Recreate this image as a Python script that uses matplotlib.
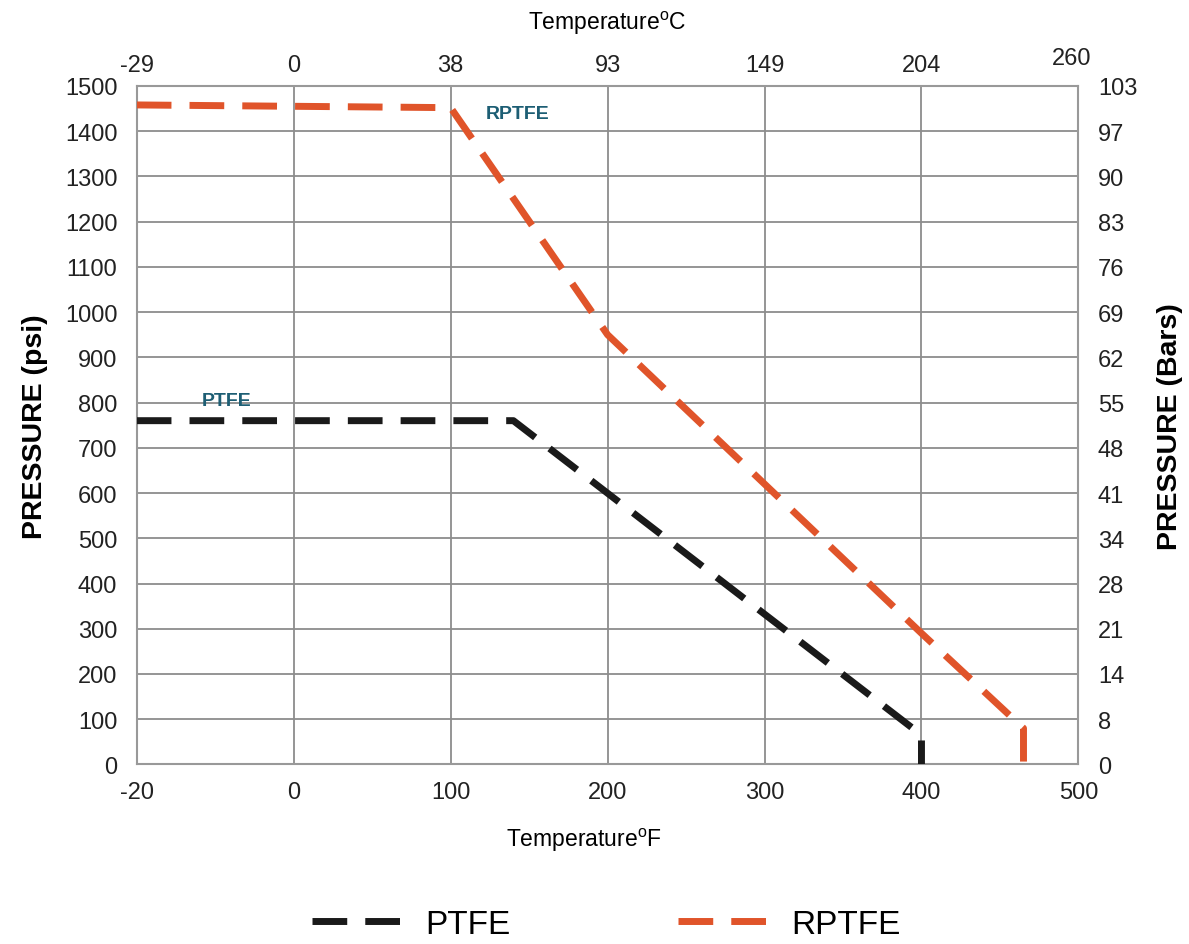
import numpy as np
import matplotlib
matplotlib.use("Agg")
import matplotlib.pyplot as plt

plt.rcParams['font.family'] = ['Liberation Sans', 'DejaVu Sans']
plt.rcParams['mathtext.fontset'] = 'custom'
plt.rcParams['mathtext.rm'] = 'Liberation Sans'

# tick values (axis is evenly spaced between these)
temp_f = [-20, 0, 100, 200, 300, 400, 500]
temp_c = ['-29', '0', '38', '93', '149', '204', '260']
psi_ticks = list(range(0, 1600, 100))
bar_labels = ['0', '8', '14', '21', '28', '34', '41', '48', '55', '62',
              '69', '76', '83', '90', '97', '103']

# curves
ptfe_t = [-20, 140, 400, 400]
ptfe_p = [760, 760, 65, 0]
rptfe_t = [-20, 100, 200, 300, 400, 465, 465]
rptfe_p = [1458, 1452, 950, 620, 290, 80, 0]

pos = np.arange(len(temp_f))
fwd = lambda x: np.interp(x, temp_f, pos)
inv = lambda p: np.interp(p, pos, temp_f)

black = '#1a1a1a'
orange = '#e0542a'
grid_c = '#8c8c8c'
teal = '#1d5e74'
txt_c = '#222222'

fig = plt.figure(figsize=(11.89, 9.45), dpi=100)
ax = fig.add_axes([0.115, 0.19, 0.792, 0.718])
ax.set_xscale('function', functions=(fwd, inv))
ax.set_xlim(-20, 500)
ax.set_ylim(0, 1500)

ax.plot(ptfe_t, ptfe_p, color=black, lw=5, dashes=(5, 2.6),
        solid_capstyle='butt', dash_capstyle='butt', label='PTFE', zorder=3)
ax.plot(rptfe_t, rptfe_p, color=orange, lw=5, dashes=(5, 2.6),
        solid_capstyle='butt', dash_capstyle='butt', label='RPTFE', zorder=3)

ax.text(143, 1438, 'RPTFE', color=teal, fontsize=14, fontweight='bold',
        ha='center', va='center')
ax.text(-8.6, 805, 'PTFE', color=teal, fontsize=14, fontweight='bold',
        ha='center', va='center')

ax.set_xticks(temp_f)
ax.set_xticklabels([str(t) for t in temp_f])
ax.set_yticks(psi_ticks)
ax.tick_params(length=0, labelsize=17, colors=txt_c)
ax.tick_params(axis='y', pad=14)
ax.tick_params(axis='x', pad=12)
for t in temp_f[1:-1]:
    ax.axvline(t, color=grid_c, lw=1.3, zorder=1)
for p in psi_ticks[1:-1]:
    ax.axhline(p, color=grid_c, lw=1.3, zorder=1)
for s in ax.spines.values():
    s.set_color('#999999')
    s.set_linewidth(1.5)

ax.set_ylabel('PRESSURE (psi)', fontsize=20.5, fontweight='bold', labelpad=12)
ax.set_xlabel(r'Temperature$^{\rm o}$F', fontsize=16.5, labelpad=16)
ax.xaxis.label.set_x(0.475)

# top celsius axis
axt = ax.twiny()
axt.set_xscale('function', functions=(fwd, inv))
axt.set_xlim(-20, 500)
axt.set_xticks(temp_f[:-1])
axt.set_xticklabels(temp_c[:-1])
axt.tick_params(length=0, labelsize=17, pad=7, colors=txt_c)
axt.annotate(temp_c[-1], xy=(500, 1.0), xycoords=axt.get_xaxis_transform(),
             xytext=(-5, 12), textcoords='offset points',
             fontsize=17, color=txt_c, ha='center', va='bottom')
axt.set_xlabel(r'Temperature$^{\rm o}$C', fontsize=16.5, labelpad=18)
for s in axt.spines.values():
    s.set_visible(False)

# right bar axis
axr = ax.twinx()
axr.set_ylim(0, 1500)
axr.set_yticks(psi_ticks)
axr.set_yticklabels(bar_labels)
axr.tick_params(length=0, labelsize=17, pad=14, colors=txt_c)
axr.set_ylabel('PRESSURE (Bars)', fontsize=20.5, fontweight='bold', labelpad=14)
for s in axr.spines.values():
    s.set_visible(False)

fig.legend(handles=ax.lines, labels=['PTFE', 'RPTFE'], loc='center',
           bbox_to_anchor=(0.51, 0.021), ncol=2, frameon=False, fontsize=24,
           handlelength=2.8, handletextpad=0.6, columnspacing=5.0)

fig.savefig('out.png', dpi=100)
